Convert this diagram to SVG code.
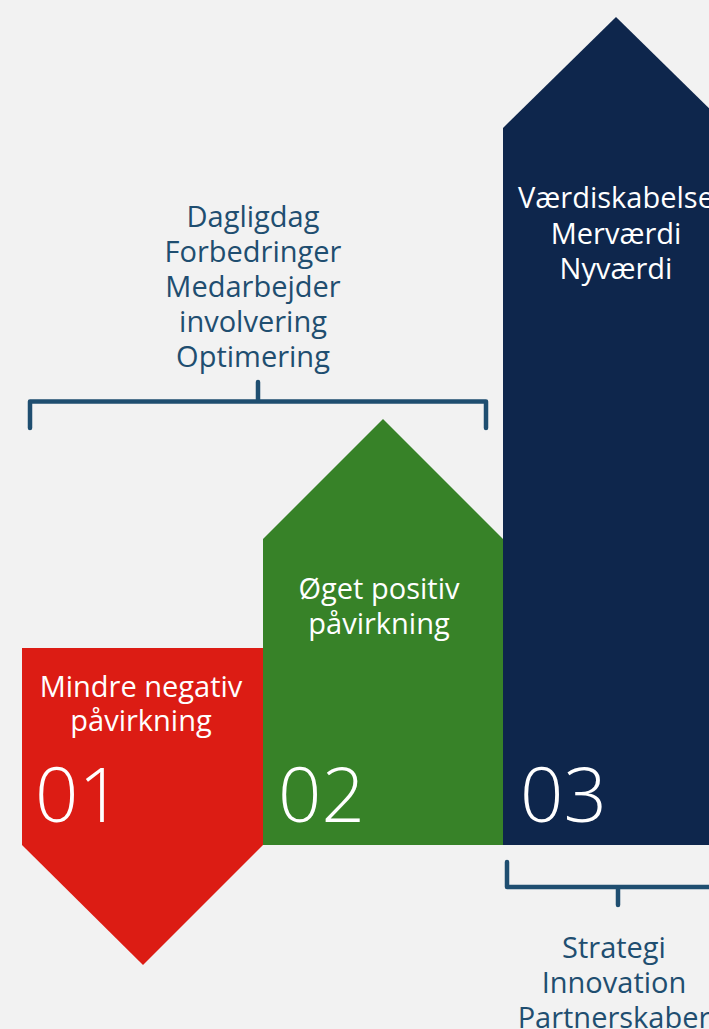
<svg xmlns="http://www.w3.org/2000/svg" width="709" height="1029" viewBox="0 0 709 1029">
<style>
.lbl{font-family:"Open Sans","Liberation Sans",sans-serif;font-size:29px;text-anchor:middle}
.dark{fill:#1f4e70}
.white{fill:#ffffff}
.num{font-family:"Open Sans","Liberation Sans",sans-serif;font-size:76px;font-weight:300;fill:#ffffff}
.br{fill:none;stroke:#1f4e70;stroke-width:4.5;stroke-linecap:round;stroke-linejoin:round}
</style>
<rect width="709" height="1029" fill="#f2f2f2"/>
<g id="node-01">
<polygon points="22,648 263,648 263,845 143,965 22,845" fill="#dc1c14"/>
<text class="lbl white" x="141" y="697">Mindre negativ</text>
<text class="lbl white" x="141" y="731">påvirkning</text>
<text class="num" x="35" y="822">01</text>
</g>
<g id="node-02">
<polygon points="263,539 383,419 503,539 503,845 263,845" fill="#378228"/>
<text class="lbl white" x="379" y="599">Øget positiv</text>
<text class="lbl white" x="379" y="634">påvirkning</text>
<text class="num" x="278" y="822">02</text>
</g>
<g id="node-03">
<polygon points="503,128 616,17 729,128 729,845 503,845" fill="#0e264c"/>
<text class="lbl white" x="616" y="208">Værdiskabelse</text>
<text class="lbl white" x="616" y="244">Merværdi</text>
<text class="lbl white" x="616" y="279">Nyværdi</text>
<text class="num" x="520" y="822">03</text>
</g>
<g id="connectors">
<path class="br" d="M30,428 V401.5 H486 V428 M258,401.5 V382"/>
<path class="br" d="M507,862 V887 H715 M618,887 V905"/>
</g>
<g id="label-top">
<text class="lbl dark" x="253" y="227">Dagligdag</text>
<text class="lbl dark" x="253" y="262">Forbedringer</text>
<text class="lbl dark" x="253" y="297">Medarbejder</text>
<text class="lbl dark" x="253" y="332">involvering</text>
<text class="lbl dark" x="253" y="367">Optimering</text>
</g>
<g id="label-bottom">
<text class="lbl dark" x="614" y="958">Strategi</text>
<text class="lbl dark" x="614" y="993">Innovation</text>
<text class="lbl dark" x="614" y="1028">Partnerskaber</text>
</g>
</svg>
